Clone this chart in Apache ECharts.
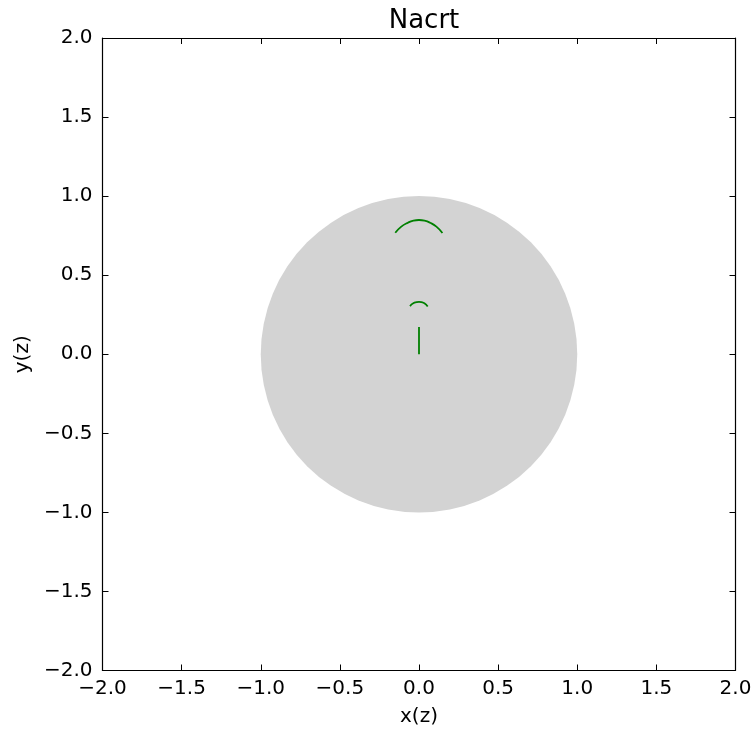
<!DOCTYPE html>
<html>
<head>
<meta charset="utf-8">
<script src="https://cdn.jsdelivr.net/npm/echarts@6/dist/echarts.min.js"></script>
<style>html,body{margin:0;padding:0;background:#fff;}#c{width:756px;height:733px;}</style>
</head>
<body>
<div id="c"></div>
<script>
var title = 'Nacrt';
var xName = 'x(z)';
var yName = 'y(z)';
var tickValues = [-2.0, -1.5, -1.0, -0.5, 0.0, 0.5, 1.0, 1.5, 2.0];
// disk: [centerX, centerY, radius]
var disk = [[0, 0, 1]];
// outer arc
var arc1X = [-0.150, -0.112, -0.070, -0.035, 0.000, 0.035, 0.070, 0.110, 0.148];
var arc1Y = [0.768, 0.807, 0.832, 0.845, 0.849, 0.845, 0.832, 0.807, 0.767];
// inner small arc
var arc2X = [-0.057, -0.036, -0.015, 0.000, 0.015, 0.034, 0.055];
var arc2Y = [0.305, 0.322, 0.329, 0.331, 0.329, 0.322, 0.302];
// vertical segment
var segX = [0.0, 0.0];
var segY = [0.0, 0.172];

function zip(a, b) { return a.map(function (v, i) { return [v, b[i]]; }); }

var font = 'DejaVu Sans';
var chart = echarts.init(document.getElementById('c'), null, {renderer: 'canvas'});
var axisCommon = {
  type: 'value', min: -2, max: 2, interval: 0.5,
  axisLine: {show: true, onZero: false, lineStyle: {color: '#000', width: 1.2}},
  axisTick: {show: true, inside: true, length: 6, lineStyle: {color: '#000', width: 1}},
  splitLine: {show: false},
  axisLabel: {color: '#000', fontFamily: font, fontSize: 20,
    formatter: function (v) { return (v < 0 ? '\u2212' : '') + Math.abs(v).toFixed(1); }}
};
function ax(extra) { return Object.assign({}, JSON.parse(JSON.stringify(axisCommon)), {axisLabel: Object.assign({}, axisCommon.axisLabel)}, extra); }

var option = {
  animation: false,
  backgroundColor: '#fff',
  title: {text: title, left: 419, textAlign: 'center', top: 3,
    textStyle: {fontFamily: font, fontSize: 26, fontWeight: 'normal', color: '#000'}},
  grid: {left: 102.5, right: 20.5, top: 38, bottom: 62.5, containLabel: false},
  xAxis: [
    ax({position: 'bottom', name: xName, nameLocation: 'middle', nameGap: 36,
      nameTextStyle: {fontFamily: font, fontSize: 20, color: '#000'},
      axisLabel: Object.assign({}, axisCommon.axisLabel, {margin: 8})}),
    ax({position: 'top', axisLabel: {show: false}})
  ],
  yAxis: [
    ax({position: 'left', name: yName, nameLocation: 'middle', nameGap: 68,
      nameTextStyle: {fontFamily: font, fontSize: 20, color: '#000'},
      axisLabel: Object.assign({}, axisCommon.axisLabel, {margin: 10})}),
    ax({position: 'right', axisLabel: {show: false}})
  ],
  series: [
    {
      type: 'custom', xAxisIndex: 0, yAxisIndex: 0, data: disk, silent: true,
      renderItem: function (params, api) {
        var c = api.coord([api.value(0), api.value(1)]);
        var e = api.coord([api.value(0) + api.value(2), api.value(1)]);
        return {type: 'circle', shape: {cx: c[0], cy: c[1], r: Math.abs(e[0] - c[0])},
          style: {fill: '#d3d3d3', stroke: null}};
      },
      z: 1
    },
    {type: 'line', data: zip(arc1X, arc1Y), smooth: true, showSymbol: false,
      lineStyle: {color: '#008000', width: 1.8}, z: 3},
    {type: 'line', data: zip(arc2X, arc2Y), smooth: true, showSymbol: false,
      lineStyle: {color: '#008000', width: 1.8}, z: 3},
    {type: 'line', data: zip(segX, segY), showSymbol: false,
      lineStyle: {color: '#008000', width: 1.8}, z: 3}
  ]
};
chart.setOption(option);
</script>
</body>
</html>
